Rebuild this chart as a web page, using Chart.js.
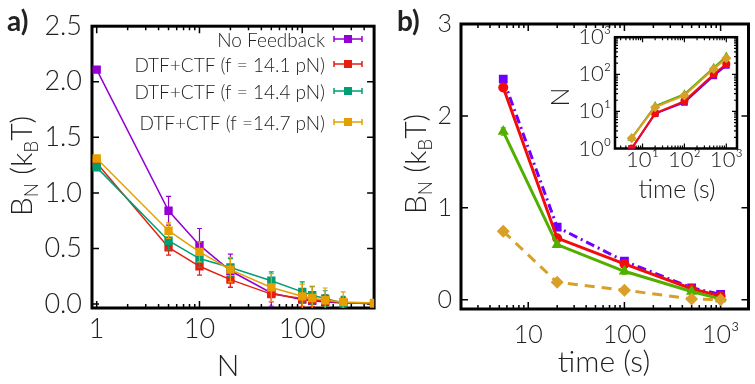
<!DOCTYPE html>
<html>
<head>
<meta charset="utf-8">
<title>B_N against N and time</title>
<script src="https://cdn.jsdelivr.net/npm/chart.js@4.4.1/dist/chart.umd.min.js"></script>
<style>
  body { margin: 0; background: #fff; }
  #figure { position: relative; width: 755px; height: 384px; overflow: hidden; background: #fff; }
  canvas { position: absolute; }
</style>
</head>
<body>
<div id="figure">
  <canvas id="chartA" width="380" height="384" style="left:0;top:0"></canvas>
  <canvas id="chartB" width="375" height="384" style="left:380px;top:0"></canvas>
  <canvas id="chartInset" width="215" height="190" style="left:540px;top:20px"></canvas>
</div>
<script>
// ---- panel a: B_N against N ----
const nValues = [1, 5, 10, 20, 50, 100, 125, 167, 250, 500];
const noFeedback = [2.11, 0.84, 0.53, 0.30, 0.10, 0.04, 0.03, 0.02, 0.01, 0.005];
const noFeedbackErr = [0, 0.13, 0.15, 0.15, 0.12, 0.08, 0.07, 0.06, 0.05, 0];
const dtf141 = [1.27, 0.51, 0.34, 0.22, 0.09, 0.05, 0.04, 0.03, 0.01, 0.005];
const dtf141Err = [0, 0.07, 0.08, 0.07, 0.07, 0.07, 0.06, 0.05, 0.04, 0];
const dtf144 = [1.23, 0.57, 0.41, 0.33, 0.21, 0.11, 0.08, 0.05, 0.01, 0.005];
const dtf144Err = [0, 0.08, 0.08, 0.08, 0.08, 0.09, 0.08, 0.07, 0.06, 0];
const dtf147 = [1.31, 0.66, 0.47, 0.31, 0.15, 0.07, 0.055, 0.035, 0.02, 0.01];
const dtf147Err = [0, 0.07, 0.09, 0.11, 0.125, 0.11, 0.10, 0.11, 0.09, 0];
const namesA = ['No Feedback', 'DTF+CTF (f = 14.1 pN)', 'DTF+CTF (f = 14.4 pN)', 'DTF+CTF (f =14.7 pN)'];
const nTicks = [1, 10, 100];
const nTickLabels = ['1', '10', '100'];
const bTicksA = [0, 0.5, 1, 1.5, 2, 2.5];

// ---- panel b: B_N against time ----
const timeValues = [5.5, 20, 100, 500, 1000];
const bPurple = [2.40, 0.79, 0.42, 0.13, 0.06];
const bRed = [2.31, 0.67, 0.39, 0.12, 0.04];
const bGreen = [1.83, 0.60, 0.31, 0.09, 0.01];
const bGold = [0.745, 0.19, 0.105, 0.01, 0.0];
const bErr = [0.04, 0.03, 0.03, 0.03, 0.02];
const timeTicks = [10, 100, 1000];
const timeTickLabels = ['10', '100', '10³'];
const bTicksB = [0, 1, 2, 3];

// ---- inset: N against time ----
const nPurple = [1.0, 8.7, 17.6, 91, 173];
const nRed = [1.0, 8.9, 19, 100, 190];
const nGreen = [1.9, 14, 29, 150, 300];
const nGold = [1.9, 13, 27, 140, 270];
const insetXTicks = [10, 100, 1000];
const insetXLabels = ['10¹', '10²', '10³'];
const insetYTicks = [1, 10, 100, 1000];
const insetYLabels = ['10⁰', '10¹', '10²', '10³'];

const FONT = 'Lato, Roboto, "DejaVu Sans", sans-serif';
const WEIGHT = 300;
const TEXT = '#222';

const toPoints = (xs, ys) => xs.map((x, i) => ({ x: x, y: ys[i] }));

// log-axis minor tick values 2..9 per decade inside [min, max]
function logMinors(min, max) {
  const out = [];
  for (let d = Math.pow(10, Math.floor(Math.log10(min))); d <= max; d *= 10) {
    for (let k = 2; k <= 9; k++) {
      const v = k * d;
      if (v > min && v < max) out.push(v);
    }
  }
  return out;
}

// closed frame with inward ticks on all four sides
const frameTicks = {
  id: 'frameTicks',
  beforeDatasetsDraw(chart, args, opts) {
    const { ctx, chartArea: a } = chart;
    const xs = chart.scales.x, ys = chart.scales.y;
    ctx.save();
    ctx.strokeStyle = '#000';
    ctx.lineWidth = opts.tickWidth || 1.5;
    ctx.beginPath();
    const xMark = (v, len) => {
      const px = xs.getPixelForValue(v);
      ctx.moveTo(px, a.bottom); ctx.lineTo(px, a.bottom - len);
      ctx.moveTo(px, a.top); ctx.lineTo(px, a.top + len);
    };
    const yMark = (v, len) => {
      const py = ys.getPixelForValue(v);
      ctx.moveTo(a.left, py); ctx.lineTo(a.left + len, py);
      ctx.moveTo(a.right, py); ctx.lineTo(a.right - len, py);
    };
    xs.ticks.forEach(t => xMark(t.value, opts.major));
    ys.ticks.forEach(t => yMark(t.value, opts.major));
    if (opts.xMinor) logMinors(xs.min, xs.max).forEach(v => xMark(v, opts.minor));
    if (opts.yMinor) logMinors(ys.min, ys.max).forEach(v => yMark(v, opts.minor));
    ctx.stroke();
    ctx.lineWidth = opts.frameWidth;
    ctx.strokeRect(a.left, a.top, a.right - a.left, a.bottom - a.top);
    ctx.restore();
  }
};

// vertical error bars with small caps, drawn with each dataset
const errorBars = {
  id: 'errorBars',
  afterDatasetDraw(chart, args) {
    const ds = chart.data.datasets[args.index];
    if (!ds.errors) return;
    const { ctx, chartArea: a } = chart;
    const ys = chart.scales.y;
    ctx.save();
    ctx.beginPath();
    ctx.rect(a.left, a.top, a.right - a.left, a.bottom - a.top);
    ctx.clip();
    ctx.strokeStyle = ds.borderColor;
    ctx.lineWidth = 1.2;
    ctx.beginPath();
    args.meta.data.forEach((pt, i) => {
      const e = ds.errors[i];
      if (!e) return;
      const v = ds.data[i].y;
      const top = ys.getPixelForValue(v + e), bot = ys.getPixelForValue(v - e);
      ctx.moveTo(pt.x, top); ctx.lineTo(pt.x, bot);
      ctx.moveTo(pt.x - 2.5, top); ctx.lineTo(pt.x + 2.5, top);
      ctx.moveTo(pt.x - 2.5, bot); ctx.lineTo(pt.x + 2.5, bot);
    });
    ctx.stroke();
    ctx.restore();
  }
};

// text with subscripts, centred on (x, y), optionally rotated
function richText(ctx, parts, x, y, size, rotate) {
  ctx.save();
  ctx.translate(x, y);
  if (rotate) ctx.rotate(-Math.PI / 2);
  ctx.fillStyle = TEXT;
  ctx.textBaseline = 'middle';
  ctx.textAlign = 'left';
  const fontOf = p => WEIGHT + ' ' + (p.sub ? Math.round(size * 0.62) : size) + 'px ' + FONT;
  const widths = parts.map(p => { ctx.font = fontOf(p); return ctx.measureText(p.text).width; });
  let cx = -widths.reduce((s, w) => s + w, 0) / 2;
  parts.forEach((p, i) => {
    ctx.font = fontOf(p);
    ctx.fillText(p.text, cx, p.sub ? size * 0.32 : 0);
    cx += widths[i];
  });
  ctx.restore();
}

const bnTitle = [
  { text: 'B' }, { text: 'N', sub: true }, { text: ' (k' }, { text: 'B', sub: true }, { text: 'T)' }
];

// axis titles, panel letters and the hand-placed legend
const annotations = {
  id: 'annotations',
  afterDraw(chart, args, opts) {
    const ctx = chart.ctx;
    ctx.save();
    if (opts.letter) {
      ctx.font = 'bold 28px ' + FONT;
      ctx.fillStyle = '#222';
      ctx.textBaseline = 'middle';
      ctx.textAlign = 'left';
      ctx.fillText(opts.letter, opts.letterX, 22);
    }
    if (opts.yTitle) richText(ctx, opts.yTitle, opts.yTitleX, opts.yTitleY, opts.titleSize, true);
    if (opts.xTitle) {
      ctx.font = WEIGHT + ' ' + opts.titleSize + 'px ' + FONT;
      ctx.fillStyle = TEXT;
      ctx.textAlign = 'center';
      ctx.textBaseline = 'middle';
      ctx.fillText(opts.xTitle, opts.xTitleX, opts.xTitleY);
    }
    if (opts.legendRows) {
      chart.data.datasets.forEach((ds, i) => {
        const y = opts.legendRows[i];
        ctx.font = WEIGHT + ' 19px ' + FONT;
        ctx.fillStyle = TEXT;
        ctx.textAlign = 'right';
        ctx.textBaseline = 'middle';
        ctx.fillText(ds.label, 325, y + 2);
        ctx.strokeStyle = ds.borderColor;
        ctx.lineWidth = 1.5;
        ctx.beginPath();
        ctx.moveTo(334, y); ctx.lineTo(362, y);
        ctx.moveTo(334, y - 3); ctx.lineTo(334, y + 3);
        ctx.moveTo(362, y - 3); ctx.lineTo(362, y + 3);
        ctx.stroke();
        ctx.fillStyle = ds.backgroundColor;
        ctx.fillRect(344, y - 4, 8, 8);
      });
    }
    ctx.restore();
  }
};

function axis(type, min, max, ticks, labels, size, padding, fit) {
  return {
    type: type, min: min, max: max,
    grid: { display: false, drawTicks: false, tickLength: 0 },
    border: { display: false },
    afterBuildTicks: s => { s.ticks = ticks.map(v => ({ value: v })); },
    afterFit: fit,
    ticks: {
      autoSkip: false, maxRotation: 0, padding: padding, color: TEXT,
      font: { family: FONT, size: size, weight: WEIGHT },
      callback: (v, i) => labels[i]
    }
  };
}

function series(label, xs, ys, color, opts) {
  return Object.assign({
    label: label,
    data: toPoints(xs, ys),
    borderColor: color,
    backgroundColor: color,
    pointBorderColor: color,
    pointBackgroundColor: color,
    borderWidth: 1.5,
    pointBorderWidth: 0,
    tension: 0
  }, opts);
}

Chart.defaults.animation = false;
Chart.defaults.plugins.legend.display = false;
Chart.defaults.plugins.tooltip.enabled = false;

// panel a
new Chart(document.getElementById('chartA'), {
  type: 'line',
  data: {
    datasets: [
      series(namesA[0], nValues, noFeedback, '#9400D3', { errors: noFeedbackErr, pointStyle: 'rect', pointRadius: 5.9, order: 3 }),
      series(namesA[1], nValues, dtf141, '#E51E10', { errors: dtf141Err, pointStyle: 'rect', pointRadius: 5.9, order: 2 }),
      series(namesA[2], nValues, dtf144, '#009E73', { errors: dtf144Err, pointStyle: 'rect', pointRadius: 5.9, order: 1 }),
      series(namesA[3], nValues, dtf147, '#E69F00', { errors: dtf147Err, pointStyle: 'rect', pointRadius: 5.9, order: 0 })
    ]
  },
  options: {
    responsive: false,
    layout: { padding: { top: 22, right: 2, left: 0, bottom: 0 } },
    scales: {
      x: axis('logarithmic', 0.9, 500, nTicks, nTickLabels, 27, 5, s => { s.height = 76; }),
      y: axis('linear', -0.035, 2.5, bTicksA, bTicksA.map(v => v.toFixed(1)), 27, 10, s => { s.width = 92; })
    },
    plugins: {
      frameTicks: { major: 7, minor: 4, frameWidth: 3, xMinor: true, yMinor: false },
      annotations: {
        letter: 'a)', letterX: 7,
        yTitle: bnTitle, yTitleX: 22, yTitleY: 166, titleSize: 30,
        xTitle: 'N', xTitleX: 228, xTitleY: 366,
        legendRows: [39, 64, 91, 122]
      }
    }
  },
  plugins: [frameTicks, errorBars, annotations]
});

// panel b
new Chart(document.getElementById('chartB'), {
  type: 'line',
  data: {
    datasets: [
      series('purple', timeValues, bPurple, '#6F00FF', { errors: bErr, borderWidth: 3, borderDash: [9, 4, 2, 4], pointStyle: 'rect', pointRadius: 6.2, order: 3 }),
      series('red', timeValues, bRed, '#F20C0C', { errors: bErr, borderWidth: 3, pointStyle: 'circle', pointRadius: 5, order: 2 }),
      series('green', timeValues, bGreen, '#52AF00', { errors: bErr, borderWidth: 3, pointStyle: 'triangle', pointRadius: 6.5, order: 1 }),
      series('gold', timeValues, bGold, '#D8A028', { errors: bErr, borderWidth: 3, borderDash: [10, 7], pointStyle: 'rectRot', pointRadius: 6.5, order: 0 })
    ]
  },
  options: {
    responsive: false,
    layout: { padding: { top: 15, right: 2.5, left: 0, bottom: 0 } },
    scales: {
      x: axis('logarithmic', 2, 1950, timeTicks, timeTickLabels, 25, 11, s => { s.height = 75; }),
      y: axis('linear', -0.1, 3, bTicksB, bTicksB.map(String), 25, 9, s => { s.width = 81; })
    },
    plugins: {
      frameTicks: { major: 7, minor: 4, frameWidth: 3, xMinor: true, yMinor: false },
      annotations: {
        letter: 'b)', letterX: 17,
        yTitle: bnTitle, yTitleX: 36, yTitleY: 164, titleSize: 30,
        xTitle: 'time (s)', xTitleX: 224, xTitleY: 362
      }
    }
  },
  plugins: [frameTicks, errorBars, annotations]
});

// inset: N against time
new Chart(document.getElementById('chartInset'), {
  type: 'line',
  data: {
    datasets: [
      series('purple', timeValues, nPurple, '#6F00FF', { borderWidth: 2, pointStyle: 'rect', pointRadius: 4.8, order: 3 }),
      series('red', timeValues, nRed, '#F20C0C', { borderWidth: 2, pointStyle: 'circle', pointRadius: 4, order: 2 }),
      series('green', timeValues, nGreen, '#52AF00', { borderWidth: 2, pointStyle: 'triangle', pointRadius: 5, order: 1 }),
      series('gold', timeValues, nGold, '#D8A028', { borderWidth: 2, pointStyle: 'rectRot', pointRadius: 5, order: 0 })
    ]
  },
  options: {
    responsive: false,
    layout: { padding: { top: 15, right: 18, left: 0, bottom: 0 } },
    scales: {
      x: axis('logarithmic', 2.2, 1800, insetXTicks, insetXLabels, 22, -2, s => { s.height = 61.5; }),
      y: axis('logarithmic', 1, 1000, insetYTicks, insetYLabels, 22, 4, s => { s.width = 75; })
    },
    plugins: {
      frameTicks: { major: 5, minor: 3, frameWidth: 2.5, tickWidth: 1.2, xMinor: true, yMinor: true },
      annotations: {
        yTitle: [{ text: 'N' }], yTitleX: 21, yTitleY: 77, titleSize: 25,
        xTitle: 'time (s)', xTitleX: 137, xTitleY: 170
      }
    }
  },
  plugins: [frameTicks, annotations]
});
</script>
</body>
</html>
